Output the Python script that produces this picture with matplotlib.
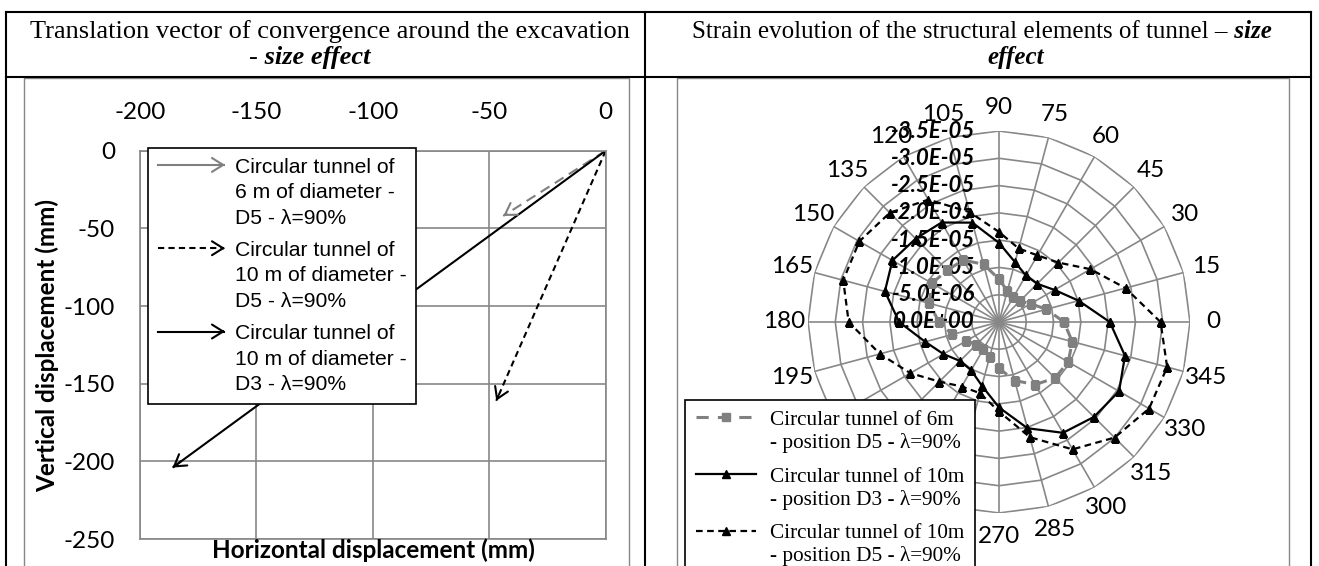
import numpy as np
import matplotlib
matplotlib.use("Agg")
import matplotlib.pyplot as plt
from matplotlib.lines import Line2D
from matplotlib.patches import FancyArrowPatch, Rectangle
from matplotlib.legend_handler import HandlerBase, HandlerLine2D
from matplotlib.transforms import ScaledTranslation, Affine2D

W, H = 1319, 566
plt.rcParams['font.family'] = ['Lato', 'DejaVu Sans']
plt.rcParams['axes.unicode_minus'] = False

# ---------------- left chart : translation vectors (they all start at 0,0)
vec_names = [
    "Circular tunnel of\n6 m of diameter -\nD5 - λ=90%",
    "Circular tunnel of\n10 m of diameter -\nD5 - λ=90%",
    "Circular tunnel of\n10 m of diameter -\nD3 - λ=90%",
]
vec_dx = [-44, -47, -186]
vec_dy = [-42, -161, -204]
x_ticks = [-200, -150, -100, -50, 0]
y_ticks = [0, -50, -100, -150, -200, -250]

# ---------------- right chart : strain around the lining (micro-strain)
angle_deg = [0, 15, 30, 45, 60, 75, 90, 105, 120, 135, 150, 165,
             180, 195, 210, 225, 240, 255, 270, 285, 300, 315, 330, 345]
strain_6m_d5 = [-11.9, -9.0, -6.7, -5.45, -5.3, -5.9, -7.85, -10.95, -13.1, -13.4, -14.2, -13.25,
                -11.0, -8.85, -6.9, -5.85, -5.75, -6.55, -8.5, -11.1, -13.25, -14.5, -14.65, -13.9]
strain_10m_d3 = [-20.3, -15.1, -11.75, -9.9, -9.85, -11.35, -14.5, -18.85, -21.05, -21.6, -22.55, -21.65,
                 -18.3, -14.0, -11.75, -10.1, -10.2, -12.1, -15.65, -20.15, -23.45, -24.6, -25.4, -23.9]
strain_10m_d5 = [-29.6, -24.0, -19.35, -15.4, -14.1, -13.95, -16.5, -20.85, -25.9, -28.3, -29.55, -29.55,
                 -27.55, -22.6, -18.75, -15.45, -13.65, -13.5, -16.4, -21.85, -26.95, -29.95, -31.75, -31.9]
strain_names = [
    "Circular tunnel of 6m\n- position D5 - λ=90%",
    "Circular tunnel of 10m\n- position D3 - λ=90%",
    "Circular tunnel of 10m\n- position D5 - λ=90%",
]
ring_levels = [0.0, -5e-6, -1e-5, -1.5e-5, -2e-5, -2.5e-5, -3e-5, -3.5e-5]

GRID = '#878787'
GRAY = '#808080'


def fx(x):
    return x / W


def fy(y):
    return 1 - y / H


fig = plt.figure(figsize=(W / 100, H / 100), dpi=100)

# table borders
for x0, y0, x1, y1 in [(6, 12, 1311, 12), (6, 77, 1311, 77),
                       (6, 12, 6, 566), (645, 12, 645, 566), (1311, 12, 1311, 566)]:
    fig.add_artist(Line2D([fx(x0), fx(x1)], [fy(y0), fy(y1)], color='black', lw=1.5))
# chart areas
for x0, x1 in [(24, 629), (677, 1289)]:
    fig.add_artist(Rectangle((fx(x0), fy(575)), fx(x1) - fx(x0), fy(78) - fy(575),
                             fill=False, edgecolor=GRID, lw=1.0))


def title_line(parts, xc, ybase, size=18):
    r = fig.canvas.get_renderer()
    objs = []
    for s, emph in parts:
        objs.append(fig.text(0, fy(ybase), s, fontsize=size, family='Liberation Serif',
                             weight='bold' if emph else 'normal',
                             style='italic' if emph else 'normal', va='baseline'))
    widths = [t.get_window_extent(r).width for t in objs]
    x = xc - sum(widths) / 2
    for t, w in zip(objs, widths):
        t.set_x(fx(x))
        x += w


title_line([("Translation vector of convergence around the excavation", False)], 330, 38, 19)
title_line([("-", False), (" size effect", True)], 310, 64, 19)
title_line([("Strain evolution of the structural elements of tunnel \u2013", False), (" size", True)], 982, 38)
title_line([("effect", True)], 1016, 64)


class TopLine(HandlerBase):
    """put the legend key level with the first line of a multi-line label"""
    def __init__(self, base, shift_pt):
        super().__init__()
        self.base = base
        self.shift = shift_pt

    def legend_artist(self, legend, orig_handle, fontsize, handlebox):
        arts = self.base.legend_artist(legend, orig_handle, fontsize, handlebox)
        tr = Affine2D().translate(0, self.shift) + handlebox.get_transform()
        for a in handlebox.get_children():
            a.set_transform(tr)
        return arts


class ArrowHandler(HandlerBase):
    def create_artists(self, legend, orig_handle, xdescent, ydescent,
                       width, height, fontsize, trans):
        y = height / 2 - ydescent
        x0, x1 = -xdescent, width - xdescent
        shaft = Line2D([x0, x1 - 1], [y, y])
        shaft.update_from(orig_handle)
        shaft.set_transform(trans)
        head = FancyArrowPatch((x1 - 2, y), (x1, y), arrowstyle=head_style,
                               mutation_scale=20, color=orig_handle.get_color(),
                               lw=orig_handle.get_linewidth(), transform=trans)
        return [shaft, head]


# ---------------- left chart
ax1 = fig.add_axes([fx(140), fy(539), (605.7 - 140) / W, (539 - 150.7) / H])
ax1.set_xlim(-200, 0)
ax1.set_ylim(-250, 0)
ax1.xaxis.tick_top()
ax1.set_xticks(x_ticks)
ax1.set_yticks(y_ticks)
ax1.grid(True, color=GRID, lw=1.2)
ax1.set_axisbelow(True)
for sp in ax1.spines.values():
    sp.set_color(GRID)
    sp.set_linewidth(1.2)
ax1.tick_params(length=0, labelsize=17.5)
ax1.tick_params(axis='x', pad=20)
ax1.tick_params(axis='y', pad=18)

fig.text(fx(47), fy(345), "Vertical displacement (mm)", rotation=90, ha='center', va='center',
         fontsize=17.5, fontweight='bold')
fig.text(fx(373), fy(550), "Horizontal displacement (mm)", ha='center', va='center',
         fontsize=17.5, fontweight='bold')

head_style = '->,head_length=0.4,head_width=0.25'
vec_colors = [GRAY, 'black', 'black']
vec_ls = [(0, (5, 3)), (0, (3, 2)), '-']
leg_ls = ['-', (0, (3, 2)), '-']

for dx, dy, c, ls in zip(vec_dx, vec_dy, vec_colors, vec_ls):
    ax1.plot([0, dx], [0, dy], color=c, lw=1.5, linestyle=ls, solid_capstyle='butt')
    ax1.annotate("", xy=(dx, dy), xytext=(0.98 * dx, 0.98 * dy),
                 arrowprops=dict(arrowstyle=head_style, color=c, lw=1.5,
                                 shrinkA=0, shrinkB=0, mutation_scale=20))

handles, hmap = [], {}
for c, ls in zip(vec_colors, leg_ls):
    proxy = Line2D([], [], color=c, lw=1.5, linestyle=ls)
    hmap[proxy] = TopLine(ArrowHandler(), 20)
    handles.append(proxy)
leg1 = ax1.legend(handles, vec_names, handler_map=hmap, loc='upper left',
                  bbox_to_anchor=(fx(148), fy(148)), bbox_transform=fig.transFigure,
                  borderaxespad=0, prop={'family': 'Liberation Sans', 'size': 15.2},
                  fancybox=False, edgecolor='black', framealpha=1,
                  handlelength=3.2, handletextpad=0.45, labelspacing=0.62, borderpad=0.45)
for t in leg1.get_texts():
    t.set_linespacing(1.44)
leg1.get_frame().set_linewidth(1.2)

# ---------------- right chart (radar)
pax = fig.add_axes([fx(808), fy(513), 382 / W, 382 / H], projection='polar')
pax.set_ylim(0, ring_levels[-1])
pax.grid(False)
pax.spines['polar'].set_visible(False)
pax.patch.set_visible(False)
th = np.deg2rad(angle_deg)
th_c = np.append(th, th[0])
for lev in ring_levels[1:]:
    pax.plot(th_c, np.full(len(th_c), lev), color=GRID, lw=1.2, zorder=1)
for t in th:
    pax.plot([t, t], [0, ring_levels[-1]], color=GRID, lw=1.2, zorder=1)

pax.set_xticks(th)
pax.set_xticklabels([str(a) for a in angle_deg], fontsize=17.5)
pax.tick_params(axis='x', length=0, pad=10)
pax.set_yticks([])

off = ScaledTranslation(-0.24, 0, fig.dpi_scale_trans)
for lev in ring_levels:
    pax.text(np.pi / 2, lev, f"{lev:.1E}", transform=pax.transData + off,
             ha='right', va='center', fontsize=16, fontweight='bold', style='italic', zorder=2)

series = [
    (strain_6m_d5, dict(color=GRAY, lw=2.2, linestyle=(0, (4, 3)), marker='s', ms=6)),
    (strain_10m_d3, dict(color='black', lw=1.6, linestyle='-', marker='^', ms=6)),
    (strain_10m_d5, dict(color='black', lw=1.6, linestyle=(0, (3, 2)), marker='^', ms=6)),
]
lines = []
for vals, st in series:
    v = np.array(vals) * 1e-6
    ln, = pax.plot(th_c, np.append(v, v[0]), zorder=3, **st)
    lines.append(ln)

hmap2 = {ln: TopLine(HandlerLine2D(numpoints=1), 10) for ln in lines}
leg2 = pax.legend(lines, strain_names, handler_map=hmap2, loc='upper left',
                  bbox_to_anchor=(fx(685), fy(400)), bbox_transform=fig.transFigure,
                  borderaxespad=0, prop={'family': 'Liberation Serif', 'size': 15.3},
                  fancybox=False, edgecolor='black', framealpha=1,
                  handlelength=2.85, handletextpad=0.65, labelspacing=0.7, borderpad=0.5)
leg2.get_frame().set_linewidth(1.2)

fig.savefig("out.png", dpi=100)
